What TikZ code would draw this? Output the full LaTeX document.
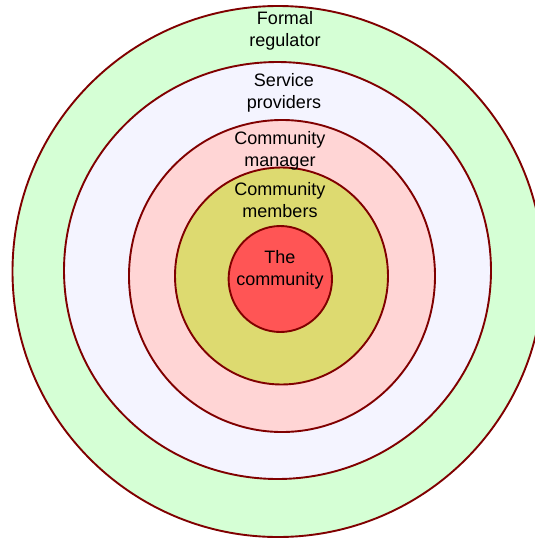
\documentclass[tikz,border=0pt]{standalone}
\usepackage{fontspec}
\setmainfont{Liberation Sans}
\definecolor{ringstroke}{HTML}{800000}
\definecolor{cgreen}{HTML}{D5FFD5}
\definecolor{clav}{HTML}{F4F4FF}
\definecolor{cpink}{HTML}{FFD5D5}
\definecolor{colive}{HTML}{DDDA70}
\definecolor{cred}{HTML}{FF5555}
\tikzset{
  ring/.style={draw=ringstroke, line width=1.9pt},
  lbl/.style={anchor=base, inner sep=0pt, font=\fontsize{18}{22}\selectfont}
}
\newcommand{\twolines}[2]{\begin{tabular}[t]{@{}c@{}}#1\\#2\end{tabular}}
\begin{document}
\begin{tikzpicture}[x=1pt,y=-1pt]
\useasboundingbox (0,0) rectangle (535,539);
\clip (0,0) rectangle (535,539);
\fill[white] (0,0) rectangle (535,539);
\draw[ring, fill=cgreen] (278,271.5) ellipse [x radius=265.5, y radius=265.5];
\draw[ring, fill=clav] (277.5,270.5) ellipse [x radius=213.5, y radius=208.5];
\draw[ring, fill=cpink] (282,276) ellipse [x radius=153, y radius=156];
\draw[ring, fill=colive] (281.5,276) ellipse [x radius=106.5, y radius=108.5];
\draw[ring, fill=cred] (280.3,279) ellipse [x radius=51.7, y radius=53];
\node[lbl] (fr) at (285,24.5) {\twolines{Formal}{regulator}};
\node[lbl] (sp) at (284,86.5) {\twolines{Service}{providers}};
\node[lbl] (cm) at (280,144.5) {\twolines{Community}{manager}};
\node[lbl] (cmem) at (280,195) {\twolines{Community}{members}};
\node[lbl] (tc) at (280,263.5) {\twolines{The}{community}};
\end{tikzpicture}
\end{document}
